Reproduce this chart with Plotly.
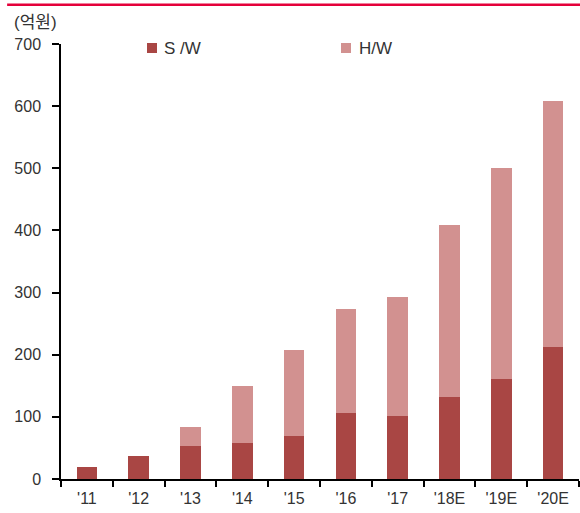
import plotly.graph_objects as go

years = ["'11", "'12", "'13", "'14", "'15", "'16", "'17", "'18E", "'19E", "'20E"]
sw = [19, 37, 53, 58, 69, 106, 101, 132, 161, 213]
hw = [0, 0, 31, 92, 139, 168, 192, 277, 339, 396]
y_ticks = [0, 100, 200, 300, 400, 500, 600, 700]

FONT = "Liberation Sans, Noto Sans CJK KR, sans-serif"
TXT = "#333333"
SW_COLOR = "#a94644"
HW_COLOR = "#d29190"

fig = go.Figure()
fig.add_trace(go.Bar(x=years, y=sw, name="S /W", marker=dict(color=SW_COLOR, line_width=0), width=0.4))
fig.add_trace(go.Bar(x=years, y=hw, name="H/W", marker=dict(color=HW_COLOR, line_width=0), width=0.4))

fig.update_layout(
    barmode="stack",
    width=580, height=513,
    margin=dict(l=61, r=1, t=44, b=34),
    paper_bgcolor="white", plot_bgcolor="white",
    font=dict(family=FONT, size=16, color=TXT),
    showlegend=False,
)
fig.update_xaxes(
    showline=True, linecolor="#000000", linewidth=1.5,
    ticks="outside", tickson="boundaries", ticklen=6, tickcolor="#000000", tickwidth=1.5,
    tickfont=dict(size=16, color=TXT), showgrid=False, ticklabelstandoff=4,
)
fig.update_yaxes(
    range=[0, 700], tickvals=y_ticks, showline=True, linecolor="#000000", linewidth=1.5,
    ticks="outside", ticklen=7, tickcolor="#000000", tickwidth=1.5,
    tickfont=dict(size=16, color=TXT), showgrid=False, zeroline=False,
    ticklabelstandoff=8,
)

# compact legend: colour swatch + label for each series
for tr, x0, x1, xt in [(fig.data[0], 0.166, 0.1853, 0.195), (fig.data[1], 0.5405, 0.5598, 0.572)]:
    fig.add_shape(type="rect", xref="paper", yref="paper", x0=x0, x1=x1, y0=0.9793, y1=1.0023,
                  fillcolor=tr.marker.color, line_width=0)
    fig.add_annotation(text=tr.name, xref="paper", yref="paper", x=xt, y=0.9908,
                       xanchor="left", yanchor="middle", showarrow=False,
                       font=dict(size=17, color=TXT))

fig.add_shape(type="line", xref="paper", yref="paper", x0=-0.104, x1=1.01, y0=1.09, y1=1.09,
              line=dict(color="#e4003a", width=2.5))
fig.add_annotation(text="(억원)", xref="paper", yref="paper", x=-0.095, y=1.05,
                   xanchor="left", yanchor="middle", showarrow=False,
                   font=dict(size=17, color=TXT))

fig.write_html("out.html")
